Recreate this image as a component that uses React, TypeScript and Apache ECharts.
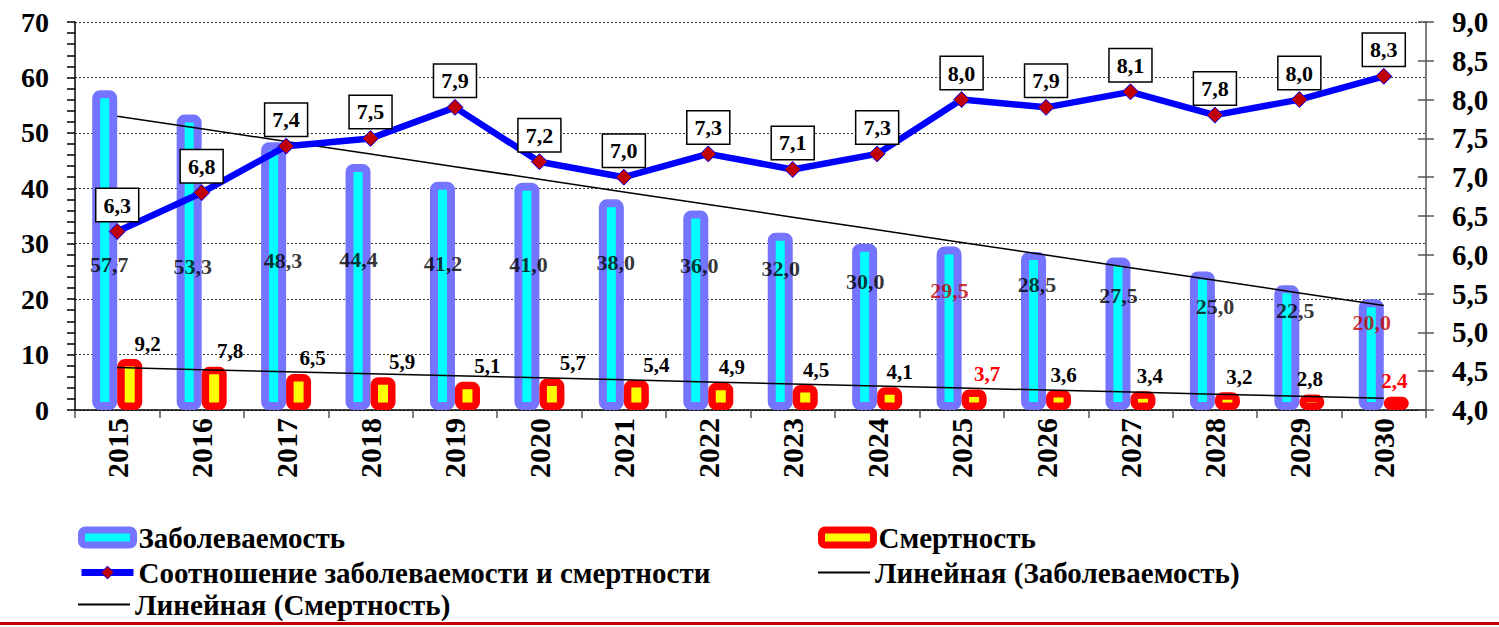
import React, { useEffect, useRef } from 'react';
import * as echarts from 'echarts';

const years = ['2015', '2016', '2017', '2018', '2019', '2020', '2021', '2022', '2023', '2024', '2025', '2026', '2027', '2028', '2029', '2030'];
const incidence = [57.7, 53.3, 48.3, 44.4, 41.2, 41.0, 38.0, 36.0, 32.0, 30.0, 29.5, 28.5, 27.5, 25.0, 22.5, 20.0];
const mortality = [9.2, 7.8, 6.5, 5.9, 5.1, 5.7, 5.4, 4.9, 4.5, 4.1, 3.7, 3.6, 3.4, 3.2, 2.8, 2.4];
const ratio = [6.3, 6.8, 7.4, 7.5, 7.9, 7.2, 7.0, 7.3, 7.1, 7.3, 8.0, 7.9, 8.1, 7.8, 8.0, 8.3];
const leftTicks = { min: 0, max: 70, interval: 10 };
const rightTicks = { min: 4, max: 9, interval: 0.5 };

// label placement (layout only)
const incidenceLabelAt = [26.2, 25.8, 26.9, 27.2, 26.5, 26.3, 26.7, 26.0, 25.6, 23.1, 21.6, 22.6, 20.6, 18.6, 17.9, 15.7];
const incidenceLabelDx = [-8, -9, -3, -12, -12, -11, -8, -9, -12, -12, -12, -9, -12, 0, -4, -12];
const incidenceRed = [10, 15];
const mortalityLabelDx = [18, 16, 14, 19, 20, 21, 20, 11, 11, 10, 13, 5, 7, 12, -2, -2];
const mortalityRed = [10, 15];

const FONT = "'Liberation Serif', 'Times New Roman', serif";
const fmt = (v: number) => v.toFixed(1).replace('.', ',');

function linearTrend(values: number[]): number[] {
  const n = values.length;
  const mx = (n - 1) / 2;
  const my = values.reduce((a, b) => a + b, 0) / n;
  let sxy = 0;
  let sxx = 0;
  values.forEach((v, i) => {
    sxy += (i - mx) * (v - my);
    sxx += (i - mx) * (i - mx);
  });
  const b = sxy / sxx;
  const a = my - b * mx;
  return values.map((_, i) => +(a + b * i).toFixed(4));
}

const N_INC = 'Заболеваемость';
const N_MORT = 'Смертность';
const N_RATIO = 'Соотношение заболеваемости и смертности';
const N_TR_INC = 'Линейная (Заболеваемость)';
const N_TR_MORT = 'Линейная (Смертность)';

const INC_BORDER = '#7474ff';
const INC_STYLE = { color: '#00ffff', borderColor: INC_BORDER, borderWidth: 8, borderRadius: 4 };
const MORT_STYLE = { color: '#ffff00', borderColor: '#ff0000', borderWidth: 7.5, borderRadius: 4 };

export default function App() {
  const ref = useRef<HTMLDivElement>(null);

  useEffect(() => {
    if (!ref.current) return;
    const chart = echarts.init(ref.current, undefined, { renderer: 'svg' });
    const labelText = { fontFamily: FONT, fontWeight: 'bold' as const, fontSize: 21, color: '#000', textBorderWidth: 0 };
    const legendText = { fontFamily: FONT, fontWeight: 'bold' as const, fontSize: 29, color: '#000' };

    const mkLegend = (left: number, rowCenter: number, item: any, itemHeight: number) => ({
      left,
      top: rowCenter - 17,
      orient: 'horizontal',
      padding: 0,
      itemWidth: 52,
      itemHeight,
      selectedMode: false,
      textStyle: legendText,
      data: [item],
    });

    const option: any = {
      animation: false,
      backgroundColor: '#ffffff',
      grid: { left: 75, right: 73, top: 22, bottom: 217 },
      xAxis: {
        type: 'category',
        data: years,
        boundaryGap: true,
        axisLine: { lineStyle: { color: '#000', width: 1.5 } },
        axisTick: { show: true, alignWithLabel: false, length: 8, lineStyle: { color: '#555', width: 1.5 } },
        axisLabel: { rotate: 90, fontFamily: FONT, fontWeight: 'bold', fontSize: 30, color: '#000', margin: 8 },
      },
      yAxis: [
        {
          type: 'value',
          position: 'left',
          ...leftTicks,
          axisLine: { show: true, lineStyle: { color: '#000', width: 1.5 } },
          axisTick: { show: true, length: 8, lineStyle: { color: '#000', width: 1.5 } },
          minorTick: { show: true, splitNumber: 5, length: 8, lineStyle: { color: '#000', width: 1.5 } },
          splitLine: { show: true, lineStyle: { color: '#333', type: [2, 2], width: 1 } },
          axisLabel: { fontFamily: FONT, fontWeight: 'bold', fontSize: 28, color: '#000', margin: 26 },
        },
        {
          type: 'value',
          position: 'right',
          ...rightTicks,
          axisLine: { show: true, lineStyle: { color: '#555', width: 1.5 } },
          axisTick: { show: true, length: 8, lineStyle: { color: '#555', width: 1.5 } },
          splitLine: { show: false },
          axisLabel: { formatter: fmt, fontFamily: FONT, fontWeight: 'bold', fontSize: 29, color: '#000', margin: 26 },
        },
        {
          type: 'value',
          position: 'right',
          ...rightTicks,
          axisLine: { show: false },
          axisTick: { show: true, inside: true, length: 8, lineStyle: { color: '#555', width: 1.5 } },
          splitLine: { show: false },
          axisLabel: { show: false },
        },
      ],
      legend: [
        mkLegend(78, 540, { name: N_INC, icon: 'roundRect', itemStyle: { color: '#00ffff', borderColor: INC_BORDER, borderWidth: 7 } }, 15),
        mkLegend(78, 575, { name: N_RATIO, itemStyle: { color: '#c00000', borderColor: '#0000ff', borderWidth: 1 }, lineStyle: { color: '#0000ff', width: 7 } }, 16),
        mkLegend(78, 607, { name: N_TR_MORT, icon: 'rect', itemStyle: { color: '#000', borderWidth: 0 } }, 2),
        mkLegend(818, 540, { name: N_MORT, icon: 'roundRect', itemStyle: { color: '#ffff00', borderColor: '#ff0000', borderWidth: 7 } }, 15),
        mkLegend(818, 575, { name: N_TR_INC, icon: 'rect', itemStyle: { color: '#000', borderWidth: 0 } }, 2),
      ],
      graphic: [
        { type: 'rect', left: 0, top: 622, shape: { width: 1499, height: 3 }, style: { fill: '#c00000' }, silent: true },
      ],
      series: [
        {
          name: N_INC,
          type: 'bar',
          yAxisIndex: 0,
          barWidth: 25,
          barGap: '0%',
          itemStyle: INC_STYLE,
          data: incidence,
          z: 2,
        },
        {
          name: N_MORT,
          type: 'bar',
          yAxisIndex: 0,
          barWidth: 25,
          barGap: '0%',
          itemStyle: MORT_STYLE,
          data: mortality.map((v, i) => ({
            value: v,
            label: {
              offset: [mortalityLabelDx[i], 0],
              color: mortalityRed.includes(i) ? '#ff0000' : '#000',
            },
          })),
          label: { show: true, position: 'top', distance: 5, formatter: (p: any) => fmt(p.value), ...labelText },
          z: 2,
        },
        {
          name: N_TR_INC,
          type: 'line',
          yAxisIndex: 0,
          data: linearTrend(incidence),
          symbol: 'none',
          itemStyle: { color: '#000' },
          lineStyle: { color: '#000', width: 1.5 },
          silent: true,
          z: 3,
        },
        {
          name: N_TR_MORT,
          type: 'line',
          yAxisIndex: 0,
          data: linearTrend(mortality),
          symbol: 'none',
          itemStyle: { color: '#000' },
          lineStyle: { color: '#000', width: 1.5 },
          silent: true,
          z: 3,
        },
        {
          name: N_RATIO,
          type: 'line',
          yAxisIndex: 1,
          data: ratio,
          symbol: 'diamond',
          symbolSize: 16,
          lineStyle: { color: '#0000ff', width: 6.5 },
          itemStyle: { color: '#c00000', borderColor: '#0000ff', borderWidth: 1 },
          label: {
            show: true,
            position: 'top',
            distance: 2,
            formatter: (p: any) => fmt(p.value),
            backgroundColor: '#ffffff',
            borderColor: '#000',
            borderWidth: 1.5,
            padding: [4, 7, 4, 7],
            ...labelText,
            fontSize: 22,
            lineHeight: 24,
          },
          z: 4,
        },
        {
          name: 'incidence-labels',
          type: 'scatter',
          yAxisIndex: 0,
          symbol: 'circle',
          symbolSize: 1,
          itemStyle: { color: '#000' },
          silent: true,
          data: incidence.map((v, i) => ({
            value: [i, incidenceLabelAt[i]],
            itemStyle: { color: incidenceRed.includes(i) ? '#c00000' : '#000' },
            label: {
              offset: [incidenceLabelDx[i], 0],
              color: incidenceRed.includes(i) ? '#c00000' : '#000',
            },
          })),
          label: {
            show: true,
            position: 'inside',
            formatter: (p: any) => fmt(incidence[p.dataIndex]),
            ...labelText,
            fontSize: 22,
          },
          z: 6,
        },
      ],
    };

    chart.setOption(option);
    return () => chart.dispose();
  }, []);

  return <div ref={ref} style={{ position: 'absolute', left: 0, top: 0, width: 1499, height: 627 }} />;
}
